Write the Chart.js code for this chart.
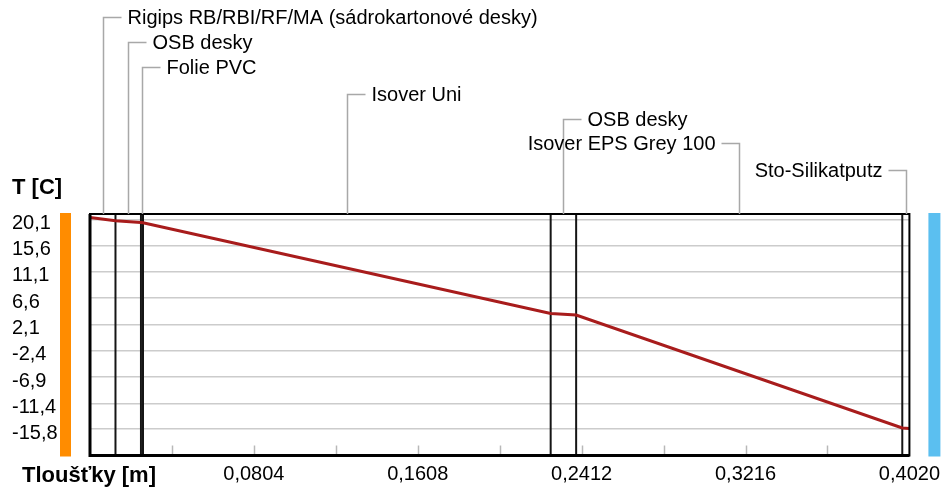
<!DOCTYPE html>
<html>
<head>
<meta charset="utf-8">
<script src="https://cdn.jsdelivr.net/npm/chart.js@4.4.1/dist/chart.umd.min.js"></script>
<style>
  body { margin: 0; background: #fff; }
</style>
</head>
<body>
<canvas id="profil" width="947" height="488"></canvas>
<script>
// skladba stěny (od interiéru k exteriéru)
const layerNames = [
  'Rigips RB/RBI/RF/MA (sádrokartonové desky)',
  'OSB desky',
  'Folie PVC',
  'Isover Uni',
  'OSB desky',
  'Isover EPS Grey 100',
  'Sto-Silikatputz'
];
const layerThickness = [0.0125, 0.0125, 0.001, 0.2, 0.0125, 0.16, 0.0035];

// teplota na rozhraních vrstev [C]
const boundaryTemps = [20.4, 19.85, 19.55, 19.5, 3.98, 3.73, -15.6, -15.7];

const yTicks = [20.1, 15.6, 11.1, 6.6, 2.1, -2.4, -6.9, -11.4, -15.8];
const xTicks = [0.0804, 0.1608, 0.2412, 0.3216, 0.402];
const xMarks = [0.0402, 0.0804, 0.1206, 0.1608, 0.201, 0.2412, 0.2814, 0.3216, 0.3618];

Chart.defaults.font.family = '"Liberation Sans", Arial, sans-serif';
Chart.defaults.font.size = 20;
Chart.defaults.color = '#000';

let boundaries = [0];
layerThickness.forEach(t => boundaries.push(boundaries[boundaries.length - 1] + t));

let points = [];
for (let i = 0; i < boundaries.length; i++) {
  points.push({ x: boundaries[i], y: boundaryTemps[i] });
}

// popisky vrstev nad grafem: řádek a strana
const labelRows = [17, 42, 67, 94, 119, 143, 170];
const labelSide = ['r', 'r', 'r', 'r', 'r', 'l', 'l'];

const wallPlugin = {
  id: 'wall',
  beforeDatasetsDraw(chart) {
    const ctx = chart.ctx;
    const a = chart.chartArea;
    const x = chart.scales.x;
    ctx.save();

    // barevné pruhy interiér / exteriér
    ctx.fillStyle = '#ff8c00';
    ctx.fillRect(a.left - 30, a.top - 1, 11, a.bottom - a.top + 2);
    ctx.fillStyle = '#5bbff0';
    ctx.fillRect(a.right + 19, a.top - 1, 12, a.bottom - a.top + 2);

    // značky na ose x
    ctx.strokeStyle = '#b8b8b8';
    ctx.lineWidth = 1.5;
    xMarks.forEach(v => {
      const px = Math.round(x.getPixelForValue(v)) + 0.5;
      ctx.beginPath();
      ctx.moveTo(px, a.bottom);
      ctx.lineTo(px, a.bottom - 10);
      ctx.stroke();
    });

    // rozhraní vrstev
    ctx.strokeStyle = '#151515';
    ctx.lineWidth = 2;
    boundaries.slice(1, -1).forEach(v => {
      const px = x.getPixelForValue(v);
      ctx.beginPath();
      ctx.moveTo(px, a.top);
      ctx.lineTo(px, a.bottom);
      ctx.stroke();
    });
    ctx.restore();
  },
  afterDraw(chart) {
    const ctx = chart.ctx;
    const a = chart.chartArea;
    const x = chart.scales.x;
    ctx.save();

    // rámeček
    ctx.strokeStyle = '#000';
    ctx.lineWidth = 2;
    ctx.strokeRect(a.left, a.top, a.right - a.left, a.bottom - a.top);
    ctx.lineWidth = 3;
    ctx.beginPath();
    ctx.moveTo(a.left, a.top);
    ctx.lineTo(a.left, a.bottom);
    ctx.lineTo(a.right, a.bottom);
    ctx.stroke();

    // vodicí čáry a názvy vrstev
    ctx.font = '20px "Liberation Sans", Arial, sans-serif';
    ctx.textBaseline = 'middle';
    for (let i = 0; i < layerNames.length; i++) {
      const lx = Math.round(x.getPixelForValue((boundaries[i] + boundaries[i + 1]) / 2)) + 0.5;
      const ly = labelRows[i] + 0.5;
      ctx.strokeStyle = '#a8a8a8';
      ctx.lineWidth = 1.5;
      ctx.beginPath();
      if (labelSide[i] === 'r') {
        ctx.moveTo(lx + 18, ly);
        ctx.lineTo(lx, ly);
      } else {
        ctx.moveTo(lx - 18, ly);
        ctx.lineTo(lx, ly);
      }
      ctx.lineTo(lx, a.top);
      ctx.stroke();
      ctx.fillStyle = '#000';
      if (labelSide[i] === 'r') {
        ctx.textAlign = 'left';
        ctx.fillText(layerNames[i], lx + 24, ly + 1);
      } else {
        ctx.textAlign = 'right';
        ctx.fillText(layerNames[i], lx - 24, ly + 1);
      }
    }

    // názvy os
    ctx.font = 'bold 22px "Liberation Sans", Arial, sans-serif';
    ctx.textAlign = 'left';
    ctx.fillText('T [C]', 12, 188);
    ctx.fillText('Tloušťky [m]', 22, 476);
    ctx.restore();
  }
};

new Chart(document.getElementById('profil'), {
  type: 'line',
  data: {
    datasets: [{
      data: points,
      borderColor: '#a81c1c',
      borderWidth: 3,
      pointRadius: 0,
      tension: 0,
      fill: false
    }]
  },
  options: {
    responsive: false,
    animation: false,
    layout: { padding: { top: 214, right: 37, left: 12, bottom: 0 } },
    plugins: {
      legend: { display: false },
      tooltip: { enabled: false }
    },
    scales: {
      x: {
        type: 'linear',
        min: 0,
        max: 0.402,
        afterBuildTicks: s => { s.ticks = xTicks.map(v => ({ value: v })); },
        afterFit: s => { s.height = 32.5; },
        grid: { display: false, drawTicks: false },
        border: { display: false },
        ticks: {
          padding: 7,
          maxRotation: 0,
          autoSkip: false,
          callback: v => v.toFixed(4).replace('.', ',')
        }
      },
      y: {
        min: -20.3,
        max: 21,
        afterBuildTicks: s => { s.ticks = yTicks.map(v => ({ value: v })); },
        afterFit: s => { s.width = 78; },
        grid: { color: '#cccccc', lineWidth: 1.5, drawTicks: false },
        border: { display: false },
        ticks: {
          crossAlign: 'far',
          padding: 0,
          labelOffset: 4,
          autoSkip: false,
          callback: v => String(v).replace('.', ',')
        }
      }
    }
  },
  plugins: [wallPlugin]
});
</script>
</body>
</html>
